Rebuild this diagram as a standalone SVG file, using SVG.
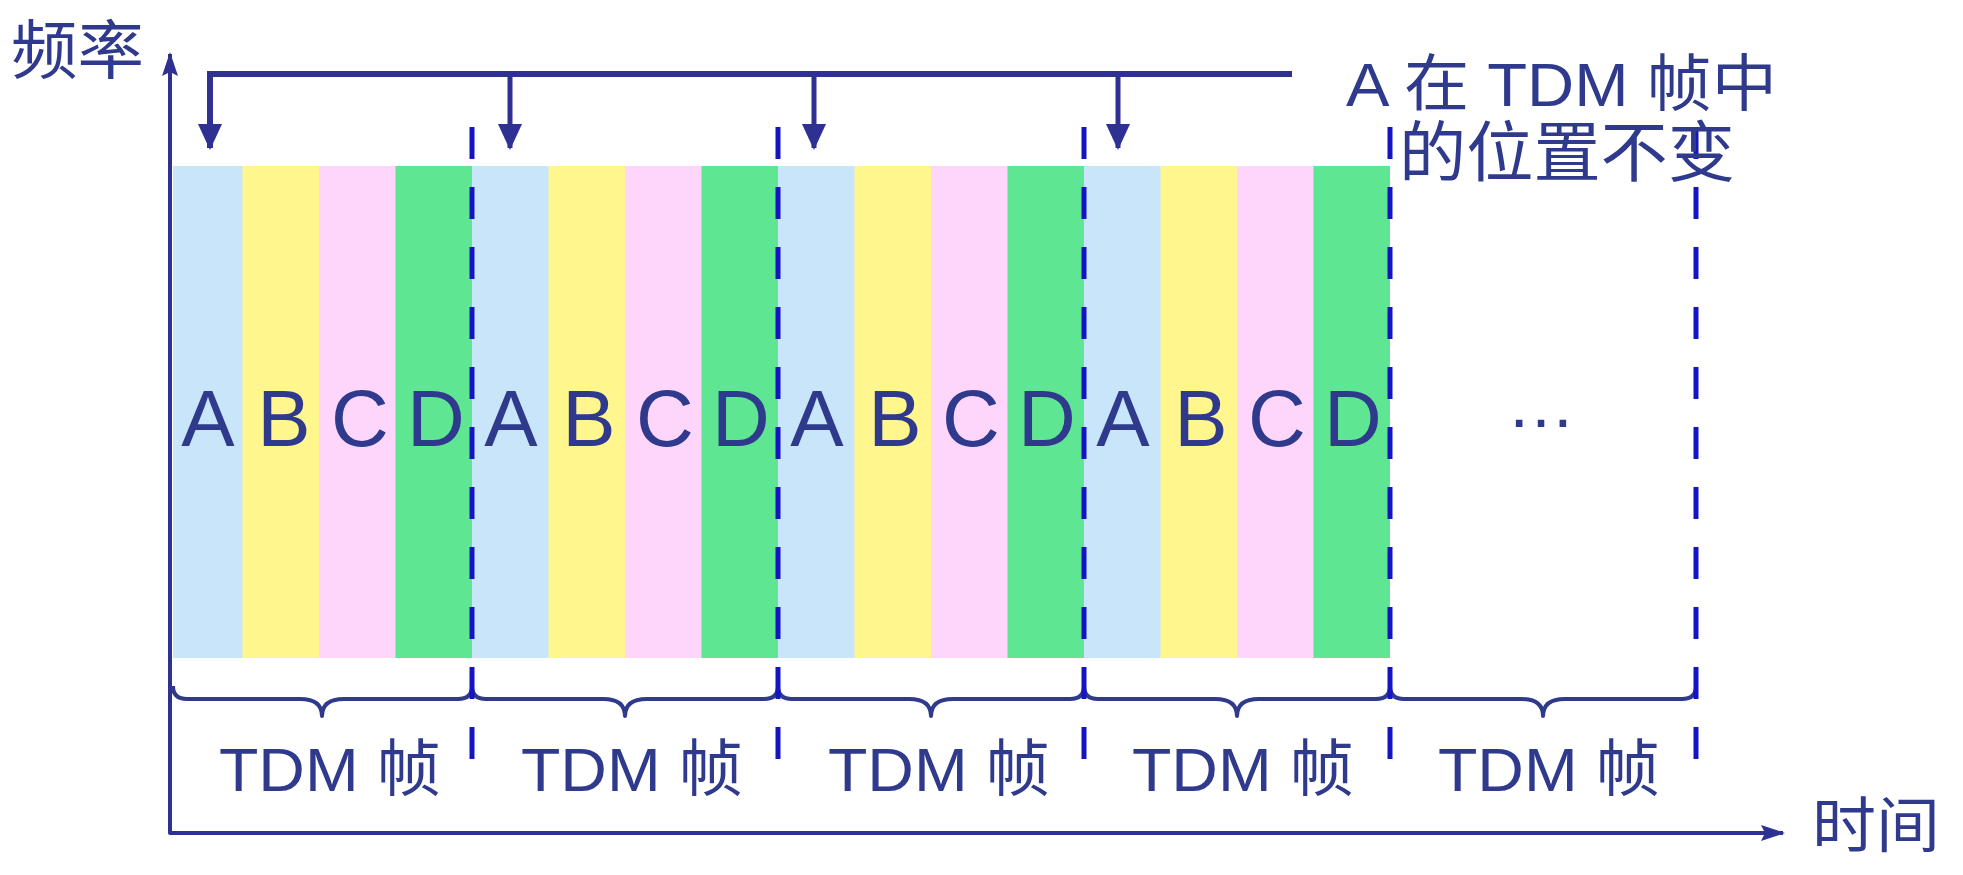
<svg xmlns="http://www.w3.org/2000/svg" width="1963" height="875" viewBox="0 0 1963 875">
<defs>
<style>
.txt{font-family:"Liberation Sans","Noto Sans CJK SC",sans-serif;fill:#2f3a8c}
.slot{font-size:80px;text-anchor:middle}
.lbl{font-size:62px}
.a{fill:#c9e5f9}.b{fill:#fff78e}.c{fill:#ffd6fb}.d{fill:#5ee692}
.dash{stroke:#1414c4;stroke-width:5;stroke-dasharray:32 28;fill:none}
.brace{stroke:#2f3a8c;stroke-width:4;fill:none;stroke-linejoin:round}
.ln{stroke:#2e3192;fill:none}
</style>
<marker id="ah" markerUnits="userSpaceOnUse" markerWidth="26" markerHeight="24" refX="24" refY="12" orient="auto-start-reverse" viewBox="0 0 26 24">
<path d="M0,0 L26,12 L0,24 Z" fill="#2e3192"/>
</marker>
<marker id="ax" markerUnits="userSpaceOnUse" markerWidth="24" markerHeight="16" refX="22" refY="8" orient="auto-start-reverse" viewBox="0 0 24 16">
<path d="M0,0 L24,8 L0,16 L4,8 Z" fill="#2e3192"/>
</marker>
</defs>
<rect width="1963" height="875" fill="#ffffff"/>

<g id="axes">
<path class="ln" d="M170,54 V833 H1783" stroke-width="4" stroke-linejoin="round" marker-start="url(#ax)" marker-end="url(#ax)"/>
<text class="txt" x="11" y="73" font-size="64" textLength="133" lengthAdjust="spacingAndGlyphs">频率</text>
<text class="txt" x="1812" y="847" font-size="60" textLength="128" lengthAdjust="spacingAndGlyphs">时间</text>
</g>

<g id="frame1">
<rect class="a" x="173" y="166" width="70" height="492"/>
<rect class="b" x="242.5" y="166" width="77" height="492"/>
<rect class="c" x="319" y="166" width="77" height="492"/>
<rect class="d" x="395.5" y="166" width="76.5" height="492"/>
<text class="txt slot" x="208" y="446">A</text>
<text class="txt slot" x="284" y="446">B</text>
<text class="txt slot" x="360" y="446">C</text>
<text class="txt slot" x="436" y="446">D</text>
<path class="brace" d="M173,686 Q173,699 187,699 L300,699 Q322,699 322,716 Q322,699 344,699 L458,699 Q472,699 472,686"/>
<text class="txt lbl" x="219" y="791" textLength="222" lengthAdjust="spacingAndGlyphs">TDM 帧</text>
</g>

<g id="frame2">
<rect class="a" x="472" y="166" width="77" height="492"/>
<rect class="b" x="548.5" y="166" width="77" height="492"/>
<rect class="c" x="625" y="166" width="77" height="492"/>
<rect class="d" x="701.5" y="166" width="76.5" height="492"/>
<text class="txt slot" x="511" y="446">A</text>
<text class="txt slot" x="589" y="446">B</text>
<text class="txt slot" x="665" y="446">C</text>
<text class="txt slot" x="741" y="446">D</text>
<path class="brace" d="M472,686 Q472,699 486,699 L603,699 Q625,699 625,716 Q625,699 647,699 L764,699 Q778,699 778,686"/>
<text class="txt lbl" x="521" y="791" textLength="222" lengthAdjust="spacingAndGlyphs">TDM 帧</text>
</g>

<g id="frame3">
<rect class="a" x="778" y="166" width="77" height="492"/>
<rect class="b" x="854.5" y="166" width="77" height="492"/>
<rect class="c" x="931" y="166" width="77" height="492"/>
<rect class="d" x="1007.5" y="166" width="76.5" height="492"/>
<text class="txt slot" x="817" y="446">A</text>
<text class="txt slot" x="895" y="446">B</text>
<text class="txt slot" x="971" y="446">C</text>
<text class="txt slot" x="1047" y="446">D</text>
<path class="brace" d="M778,686 Q778,699 792,699 L909,699 Q931,699 931,716 Q931,699 953,699 L1070,699 Q1084,699 1084,686"/>
<text class="txt lbl" x="828" y="791" textLength="222" lengthAdjust="spacingAndGlyphs">TDM 帧</text>
</g>

<g id="frame4">
<rect class="a" x="1084" y="166" width="77" height="492"/>
<rect class="b" x="1160.5" y="166" width="77" height="492"/>
<rect class="c" x="1237" y="166" width="77" height="492"/>
<rect class="d" x="1313.5" y="166" width="76.5" height="492"/>
<text class="txt slot" x="1123" y="446">A</text>
<text class="txt slot" x="1201" y="446">B</text>
<text class="txt slot" x="1277" y="446">C</text>
<text class="txt slot" x="1353" y="446">D</text>
<path class="brace" d="M1084,686 Q1084,699 1098,699 L1215,699 Q1237,699 1237,716 Q1237,699 1259,699 L1376,699 Q1390,699 1390,686"/>
<text class="txt lbl" x="1132" y="791" textLength="222" lengthAdjust="spacingAndGlyphs">TDM 帧</text>
</g>

<g id="frame5">
<text class="txt" x="1541" y="427" font-size="69" text-anchor="middle">…</text>
<path class="brace" d="M1390,686 Q1390,699 1404,699 L1521,699 Q1543,699 1543,716 Q1543,699 1565,699 L1682,699 Q1696,699 1696,686"/>
<text class="txt lbl" x="1438" y="791" textLength="222" lengthAdjust="spacingAndGlyphs">TDM 帧</text>
</g>

<g id="frame-boundaries">
<line class="dash" x1="472" y1="127" x2="472" y2="760"/>
<line class="dash" x1="778" y1="127" x2="778" y2="760"/>
<line class="dash" x1="1084" y1="127" x2="1084" y2="760"/>
<line class="dash" x1="1390" y1="127" x2="1390" y2="760"/>
<line class="dash" x1="1696" y1="127" x2="1696" y2="760"/>
</g>

<g id="note">
<text class="txt" x="1346" y="106" font-size="62" textLength="431" lengthAdjust="spacingAndGlyphs">A 在 TDM 帧中</text>
<text class="txt" x="1399" y="176" font-size="66" textLength="336" lengthAdjust="spacingAndGlyphs">的位置不变</text>
</g>

<g id="connectors">
<path class="ln" d="M1292,74 H210 V148" stroke-width="6" marker-end="url(#ah)"/>
<line class="ln" x1="510" y1="74" x2="510" y2="148" stroke-width="5" marker-end="url(#ah)"/>
<line class="ln" x1="814" y1="74" x2="814" y2="148" stroke-width="5" marker-end="url(#ah)"/>
<line class="ln" x1="1118" y1="74" x2="1118" y2="148" stroke-width="5" marker-end="url(#ah)"/>
</g>
</svg>
